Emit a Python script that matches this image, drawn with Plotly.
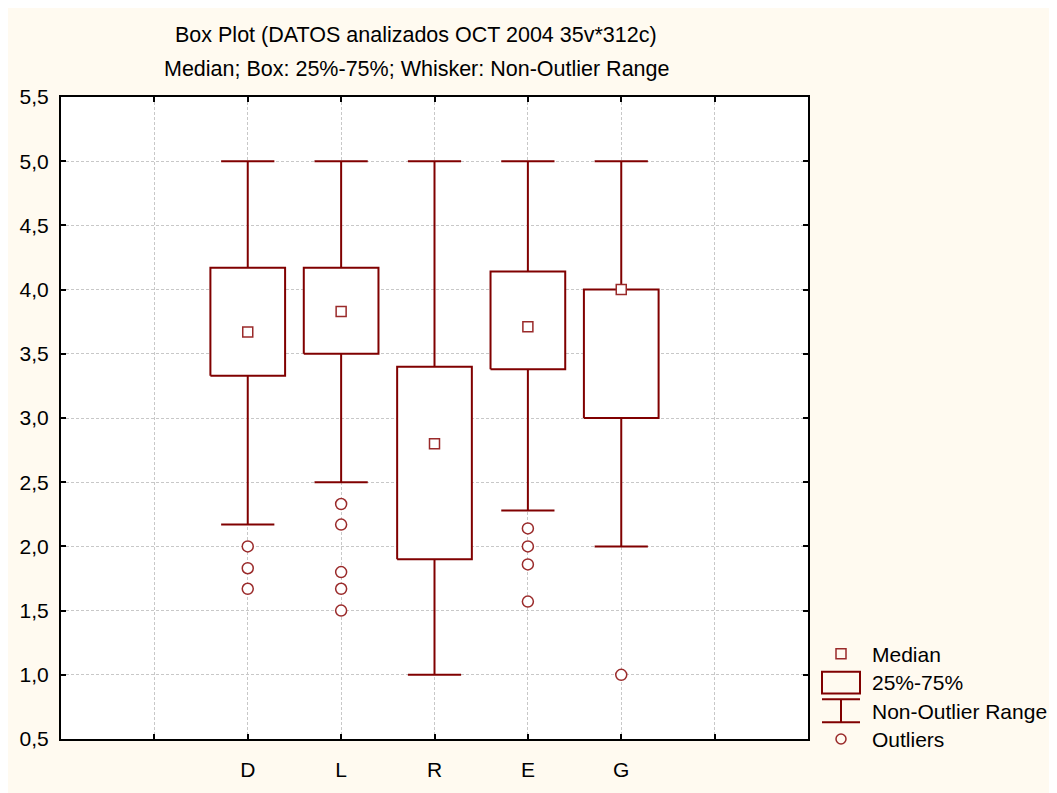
import plotly.graph_objects as go

# ---- data ----
categories = ["D", "L", "R", "E", "G"]
q1 = [3.33, 3.50, 1.90, 3.38, 3.00]
q3 = [4.17, 4.17, 3.40, 4.14, 4.00]
medians = [3.67, 3.83, 2.80, 3.71, 4.00]
whisker_low = [2.17, 2.50, 1.00, 2.28, 2.00]
whisker_high = [5.00, 5.00, 5.00, 5.00, 5.00]
outliers = [
    [2.00, 1.83, 1.67],
    [2.33, 2.17, 1.80, 1.67, 1.50],
    [],
    [2.14, 2.00, 1.86, 1.57],
    [1.00],
]
tick_labels = ["", "D", "L", "R", "E", "G", ""]
y_ticks = [0.5, 1.0, 1.5, 2.0, 2.5, 3.0, 3.5, 4.0, 4.5, 5.0, 5.5]

# ---- style ----
OFF = 8  # page body margin
W, H = 1057 - OFF, 793 - OFF
PL, PR, PT, PB = 61, 808, 97, 745  # plot area in page pixels
ML, MR, MT, MB = PL - OFF, W - (PR - OFF), PT - OFF, H - (PB - OFF)
RED = "#800000"
MRED = "#9a2a2a"
CREAM = "#fffaf0"
FONT = "Liberation Sans, Arial, sans-serif"
BOX_W = 0.8
CAP_W = 0.57

pw = PR - PL
ph = PB - PT


def px(x):
    return (x - PL) / pw


def py(y):
    return (PB - y) / ph


positions = [i + 2 for i in range(len(categories))]

fig = go.Figure()

for p, a, b, lo, hi in zip(positions, q1, q3, whisker_low, whisker_high):
    # whiskers + caps
    fig.add_trace(go.Scatter(
        x=[p, p, None, p, p, None, p - CAP_W / 2, p + CAP_W / 2, None, p - CAP_W / 2, p + CAP_W / 2],
        y=[b, hi, None, a, lo, None, hi, hi, None, lo, lo],
        mode="lines", line=dict(color=RED, width=2), showlegend=False, hoverinfo="skip"))
    # box
    fig.add_trace(go.Scatter(
        x=[p - BOX_W / 2, p + BOX_W / 2, p + BOX_W / 2, p - BOX_W / 2, p - BOX_W / 2],
        y=[a, a, b, b, a],
        mode="lines", fill="toself", fillcolor="white",
        line=dict(color=RED, width=2), showlegend=False, hoverinfo="skip"))

# medians
fig.add_trace(go.Scatter(
    x=positions, y=medians, mode="markers",
    marker=dict(symbol="square", size=10, color="white", line=dict(color=MRED, width=1.5)),
    showlegend=False, hoverinfo="skip"))

# outliers
ox, oy = [], []
for p, outs in zip(positions, outliers):
    for v in outs:
        ox.append(p)
        oy.append(v)
fig.add_trace(go.Scatter(
    x=ox, y=oy, mode="markers",
    marker=dict(symbol="circle", size=11, color="white", line=dict(color=MRED, width=1.5)),
    showlegend=False, hoverinfo="skip"))

shapes = []
# manual legend
lx = 841
shapes.append(dict(type="rect", xref="paper", yref="paper", x0=px(lx - 5), x1=px(lx + 5),
                   y0=py(664), y1=py(654), line=dict(color=MRED, width=1.5)))
shapes.append(dict(type="rect", xref="paper", yref="paper", x0=px(822), x1=px(860),
                   y0=py(699), y1=py(677), line=dict(color=RED, width=2)))
shapes.append(dict(type="line", xref="paper", yref="paper", x0=px(822), x1=px(860),
                   y0=py(705), y1=py(705), line=dict(color=RED, width=2)))
shapes.append(dict(type="line", xref="paper", yref="paper", x0=px(lx), x1=px(lx),
                   y0=py(705), y1=py(728), line=dict(color=RED, width=2)))
shapes.append(dict(type="line", xref="paper", yref="paper", x0=px(822), x1=px(860),
                   y0=py(728), y1=py(728), line=dict(color=RED, width=2)))
shapes.append(dict(type="circle", xref="paper", yref="paper", x0=px(lx - 5), x1=px(lx + 5),
                   y0=py(750), y1=py(740), line=dict(color=MRED, width=1.5)))

legend_texts = ["Median", "25%-75%", "Non-Outlier Range", "Outliers"]
legend_y = [660, 688, 717, 745]
annotations = []
for t, yy in zip(legend_texts, legend_y):
    annotations.append(dict(text=t, xref="paper", yref="paper", x=px(870), y=py(yy),
                            xanchor="left", yanchor="middle", showarrow=False,
                            font=dict(family=FONT, size=21, color="black")))

annotations.append(dict(text="Box Plot (DATOS analizados OCT 2004 35v*312c)", xref="paper", yref="paper",
                        x=px(416), y=py(34), xanchor="center", yanchor="middle", showarrow=False,
                        font=dict(family=FONT, size=21.5, color="black")))
annotations.append(dict(text="Median; Box: 25%-75%; Whisker: Non-Outlier Range", xref="paper", yref="paper",
                        x=px(416), y=py(69), xanchor="center", yanchor="middle", showarrow=False,
                        font=dict(family=FONT, size=21.5, color="black")))

axis_common = dict(showline=True, linecolor="black", linewidth=2, mirror="ticks",
                   ticks="inside", ticklen=5, tickwidth=1.5, tickcolor="black",
                   showgrid=True, gridcolor="#c8c8c8", gridwidth=1, griddash="3px,2px",
                   zeroline=False, tickfont=dict(family=FONT, size=21, color="black"))

fig.update_layout(
    width=W, height=H,
    margin=dict(l=ML, r=MR, t=MT, b=MB),
    paper_bgcolor=CREAM, plot_bgcolor="white",
    separators=",.",
    shapes=shapes, annotations=annotations,
    showlegend=False,
    xaxis=dict(range=[0, 8], tickmode="array", tickvals=list(range(1, 8)), ticktext=tick_labels,
               ticklabelstandoff=11, **axis_common),
    yaxis=dict(range=[0.5, 5.5], tickmode="array", tickvals=y_ticks, tickformat=".1f",
               ticklabelstandoff=6, **axis_common),
)

fig.write_html("out.html")
